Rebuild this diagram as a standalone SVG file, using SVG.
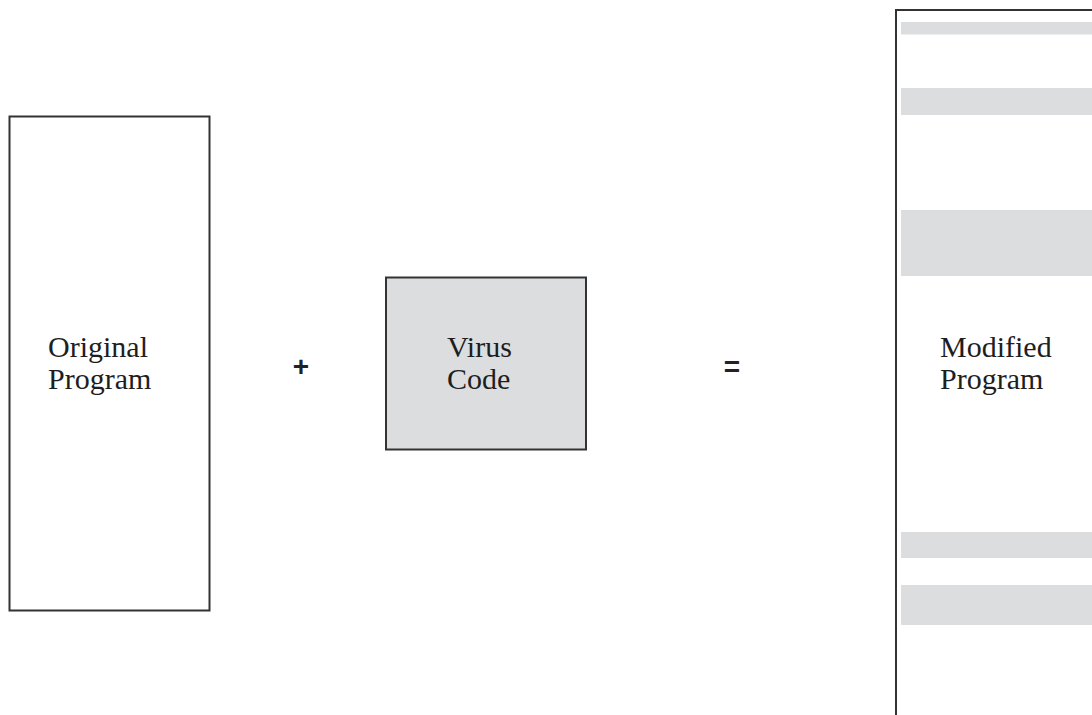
<svg xmlns="http://www.w3.org/2000/svg" width="1092" height="715" viewBox="0 0 1092 715">
<style>
.box{stroke:#333333;stroke-width:2;}
.band{fill:#dcdddf;}
.lbl{font-family:"Liberation Serif","Times New Roman",serif;font-size:30px;fill:#1e1e1e;}
.op{font-family:"Liberation Sans",Arial,sans-serif;font-size:28px;font-weight:bold;fill:#222;text-anchor:middle;}
</style>
<rect width="1092" height="715" fill="#ffffff"/>
<g id="original-program">
<rect class="box" x="9.5" y="116.5" width="200" height="494" fill="#ffffff"/>
<text class="lbl" x="48" y="357">Original</text>
<text class="lbl" x="48" y="389">Program</text>
</g>
<g id="plus">
<text class="op" x="301" y="376">+</text>
</g>
<g id="virus-code">
<rect class="box" x="386" y="277.5" width="200" height="172" fill="#dcdddf"/>
<text class="lbl" x="447" y="357">Virus</text>
<text class="lbl" x="447" y="389">Code</text>
</g>
<g id="equals">
<text class="op" x="732" y="376">=</text>
</g>
<g id="modified-program">
<rect class="box" x="896" y="10" width="300" height="800" fill="#ffffff"/>
<rect class="band" x="901" y="22" width="191" height="12.5"/>
<rect class="band" x="901" y="88" width="191" height="27"/>
<rect class="band" x="901" y="210" width="191" height="66"/>
<rect class="band" x="901" y="532" width="191" height="26"/>
<rect class="band" x="901" y="585" width="191" height="40"/>
<text class="lbl" x="940" y="357">Modified</text>
<text class="lbl" x="940" y="389">Program</text>
</g>
<g id="connectors"></g>
</svg>
